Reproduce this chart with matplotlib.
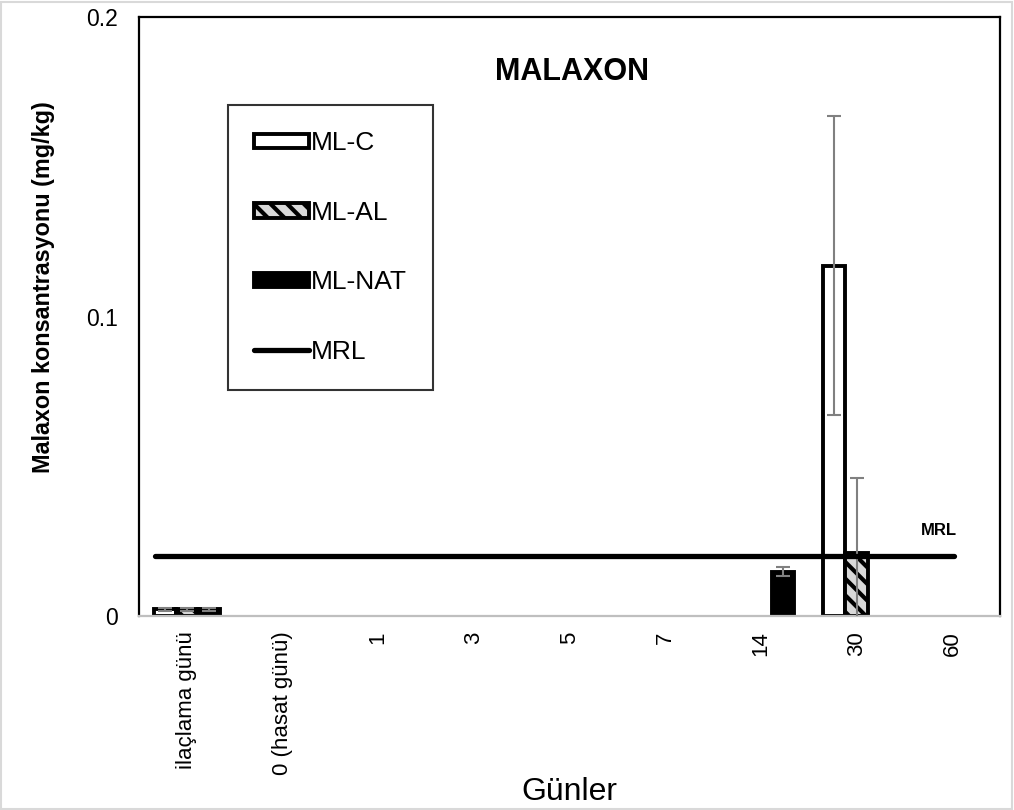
import numpy as np
import matplotlib
matplotlib.use("Agg")
import matplotlib.pyplot as plt
from matplotlib.patches import Rectangle

plt.rcParams['font.family'] = ['Liberation Sans', 'DejaVu Sans']
plt.rcParams['hatch.linewidth'] = 3.0

categories = ["ilaçlama günü", "0 (hasat günü)", "1", "3", "5", "7", "14", "30", "60"]
ml_c = [0.0022, 0, 0, 0, 0, 0, 0, 0.117, 0]
ml_c_err = [0.0004, 0, 0, 0, 0, 0, 0, 0.050, 0]
ml_al = [0.0022, 0, 0, 0, 0, 0, 0, 0.021, 0]
ml_al_err = [0.0004, 0, 0, 0, 0, 0, 0, 0.025, 0]
ml_nat = [0.0022, 0, 0, 0, 0, 0, 0.0148, 0, 0]
ml_nat_err = [0.0004, 0, 0, 0, 0, 0, 0.0015, 0, 0]
mrl = 0.02

fig = plt.figure(figsize=(10.14, 8.10), dpi=100)
ax = fig.add_axes([139 / 1014, 1 - 616 / 810, 861 / 1014, 599 / 810])

x = np.arange(len(categories))
w = 0.23

series = [
    (ml_c, ml_c_err, -w, dict(facecolor='white', edgecolor='black'), 'ML-C'),
    (ml_al, ml_al_err, 0, dict(facecolor='#d9d9d9', edgecolor='black', hatch='\\\\'), 'ML-AL'),
    (ml_nat, ml_nat_err, w, dict(facecolor='black', edgecolor='black'), 'ML-NAT'),
]

handles = []
for vals, errs, off, style, name in series:
    vals = np.array(vals)
    errs = np.array(errs)
    lw = np.where(vals > 0, 2.8, 0)
    bars = ax.bar(x + off, vals, width=w, linewidth=lw, label=name, zorder=2, **style)
    m = errs > 0
    ax.errorbar(x[m] + off, vals[m], yerr=errs[m], fmt='none', ecolor='#808080',
                elinewidth=1.5, capsize=5, capthick=1.5, zorder=3)
    handles.append(bars)

line, = ax.plot([x[0] - 0.33, x[-1] + 0.02], [mrl, mrl], color='black', lw=3.8,
                solid_capstyle='round', zorder=4, label='MRL')
handles.append(line)
ax.text(x[-1] - 0.14, mrl + 0.0085, 'MRL', fontsize=12, fontweight='bold',
        ha='center', va='center')

ax.set_xlim(-0.5, len(categories) - 0.5)
ax.set_ylim(0, 0.2)
ax.set_yticks([0, 0.1, 0.2])
ax.set_yticklabels(['0', '0.1', '0.2'])
ax.set_xticks(x)
ax.set_xticklabels(categories, rotation=90, va='top', ha='center')
ax.tick_params(axis='x', length=0, pad=11, labelsize=16)
ax.tick_params(axis='y', length=0, pad=15, labelsize=16.5)

for s in ['left', 'top', 'right']:
    ax.spines[s].set_color('black')
    ax.spines[s].set_linewidth(1.6)
ax.spines['bottom'].set_color('#bfbfbf')
ax.spines['bottom'].set_linewidth(1.6)

ax.text(0.503, 0.908, 'MALAXON', transform=ax.transAxes, fontsize=22,
        fontweight='bold', ha='center', va='center')

ax.set_ylabel('Malaxon konsantrasyonu (mg/kg)', fontsize=16.8, fontweight='bold')
ax.yaxis.set_label_coords(-0.098, 0.549)
ax.set_xlabel('Günler', fontsize=23)
ax.xaxis.set_label_coords(0.5, -0.268)

leg = ax.legend(handles=handles, loc='upper left', bbox_to_anchor=(0.103, 0.853),
                borderaxespad=0, fontsize=19, frameon=True, fancybox=False,
                labelspacing=1.72, handlelength=2.1, handleheight=0.46,
                handletextpad=0.05, borderpad=1.0)
leg.get_frame().set_edgecolor('black')
leg.get_frame().set_linewidth(1.5)

fig.patches.append(Rectangle((0.001, 0.001), 0.997, 0.997, transform=fig.transFigure,
                             fill=False, edgecolor='#d9d9d9', linewidth=1.5))

fig.savefig('out.png', dpi=100)
